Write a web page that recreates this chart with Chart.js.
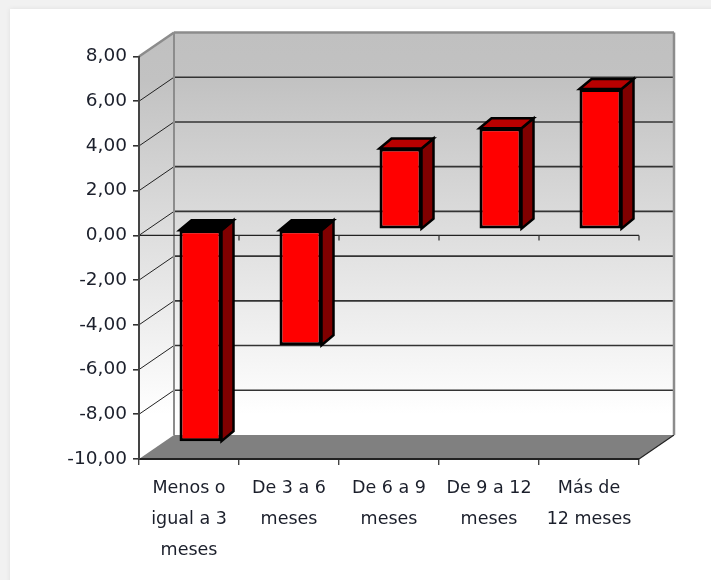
<!DOCTYPE html>
<html>
<head>
<meta charset="utf-8">
<title>Grafico</title>
<script src="https://cdn.jsdelivr.net/npm/chart.js@4"></script>
<style>
    html, body { margin: 0; padding: 0; width: 711px; height: 580px; overflow: hidden; background: #f1f1f1; }
    .card { position: absolute; left: 10px; top: 9px; width: 720px; height: 600px; background: #fff; box-shadow: 0 0 5px rgba(0,0,0,0.08); }
    canvas { position: absolute; left: 0; top: 0; }
</style>
</head>
<body>
<div class="card"></div>
<canvas id="grafico" width="711" height="580"></canvas>
<script>
const categorias = [
    ['Menos o', 'igual a 3', 'meses'],
    ['De 3 a 6', 'meses'],
    ['De 6 a 9', 'meses'],
    ['De 9 a 12', 'meses'],
    ['Más de', '12 meses']
];
const valores = [-9.47, -5.18, 3.62, 4.52, 6.28];
const ejeMin = -10;
const ejeMax = 8;
const ejePaso = 2;

// profundidad de la caja 3D y posicion de la barra dentro de ella
const fondoX = 35, fondoY = -24;
const barraX = 11.5, barraY = -6;
const cuboX = 12, cuboY = -10;

const colorTexto = '#1b1f2b';

function fondoDegradado(ctx, y0, y1) {
    const g = ctx.createLinearGradient(0, y0, 0, y1);
    g.addColorStop(0, '#c0c0c0');
    g.addColorStop(0.12, '#c2c2c2');
    g.addColorStop(0.95, '#ffffff');
    g.addColorStop(1, '#ffffff');
    return g;
}

function poligono(ctx, puntos, relleno, borde, grosor) {
    ctx.beginPath();
    puntos.forEach((p, i) => i === 0 ? ctx.moveTo(p[0], p[1]) : ctx.lineTo(p[0], p[1]));
    ctx.closePath();
    if (relleno) {
        ctx.fillStyle = relleno;
        ctx.fill();
    }
    if (borde) {
        ctx.strokeStyle = borde;
        ctx.lineWidth = grosor;
        ctx.lineJoin = 'miter';
        ctx.stroke();
    }
}

function linea(ctx, x0, y0, x1, y1, color, grosor) {
    ctx.beginPath();
    ctx.moveTo(x0, y0);
    ctx.lineTo(x1, y1);
    ctx.strokeStyle = color;
    ctx.lineWidth = grosor;
    ctx.stroke();
}

const caja3d = {
    id: 'caja3d',
    beforeDraw(chart) {
        const ctx = chart.ctx;
        const { left, right, top, bottom } = chart.chartArea;
        const yEje = chart.scales.y;
        ctx.save();

        // paredes
        poligono(ctx, [[left + fondoX, top + fondoY], [right + fondoX, top + fondoY], [right + fondoX, bottom + fondoY], [left + fondoX, bottom + fondoY]], fondoDegradado(ctx, top + fondoY, bottom + fondoY));
        poligono(ctx, [[left, top], [left + fondoX, top + fondoY], [left + fondoX, bottom + fondoY], [left, bottom]], fondoDegradado(ctx, top + fondoY, bottom + fondoY));

        // rejilla
        yEje.ticks.forEach(t => {
            const y = yEje.getPixelForValue(t.value);
            if (t.value !== ejeMin && t.value !== ejeMax) {
                linea(ctx, left, y, left + fondoX, y + fondoY, '#222', 1);
                linea(ctx, left + fondoX, y + fondoY, right + fondoX, y + fondoY, '#333', 1.6);
            }
        });

        // suelo
        poligono(ctx, [[left, bottom], [right, bottom], [right + fondoX, bottom + fondoY], [left + fondoX, bottom + fondoY]], '#808080');
        linea(ctx, right, bottom, right + fondoX, bottom + fondoY, '#222', 1.2);

        // bordes grises
        linea(ctx, left + fondoX, bottom + fondoY, left + fondoX, top + fondoY, '#8c8c8c', 2);
        linea(ctx, left, top, left + fondoX, top + fondoY, '#8c8c8c', 2.5);
        linea(ctx, left + fondoX, top + fondoY, right + fondoX, top + fondoY, '#8c8c8c', 2.5);
        linea(ctx, right + fondoX, top + fondoY, right + fondoX, bottom + fondoY, '#8c8c8c', 2.5);

        // linea del cero con sus marcas
        const y0 = yEje.getPixelForValue(0);
        linea(ctx, left, y0, right, y0, '#222', 1.4);
        categorias.forEach((c, i) => {
            const x = left + (right - left) * (i + 1) / categorias.length;
            linea(ctx, x, y0, x, y0 + 5, '#444', 1.4);
        });
        ctx.restore();
    },
    beforeDatasetDraw(chart, args) {
        const ctx = chart.ctx;
        ctx.save();
        ctx.translate(barraX, barraY);
        args.meta.data.forEach(barra => {
            const p = barra.getProps(['x', 'y', 'base', 'width'], true);
            const izq = p.x - p.width / 2, der = p.x + p.width / 2;
            const arriba = Math.min(p.y, p.base), abajo = Math.max(p.y, p.base);
            const negativa = p.y > p.base;
            poligono(ctx, [[der, arriba], [der + cuboX, arriba + cuboY], [der + cuboX, abajo + cuboY], [der, abajo]], '#800000', '#000', 2.5);
            poligono(ctx, [[izq, arriba], [izq + cuboX, arriba + cuboY], [der + cuboX, arriba + cuboY], [der, arriba]], negativa ? '#000000' : '#b80000', '#000', 2.5);
        });
    },
    afterDatasetDraw(chart) {
        chart.ctx.restore();
    }
};

new Chart(document.getElementById('grafico'), {
    type: 'bar',
    data: {
        labels: categorias,
        datasets: [{
            data: valores,
            backgroundColor: '#ff0000',
            borderColor: '#000000',
            borderWidth: 3,
            borderSkipped: false,
            categoryPercentage: 0.42,
            barPercentage: 1,
            clip: false
        }]
    },
    options: {
        responsive: false,
        animation: false,
        layout: { padding: { left: 0, top: 56.5, right: 72, bottom: 0 } },
        plugins: { legend: { display: false }, title: { display: false }, tooltip: { enabled: false } },
        scales: {
            x: {
                afterFit: (s) => { s.height = 121; },
                border: { color: '#222', width: 2 },
                grid: { drawOnChartArea: false, drawTicks: true, tickLength: 6, color: '#444', lineWidth: 1.4 },
                ticks: {
                    color: colorTexto,
                    maxRotation: 0,
                    autoSkip: false,
                    padding: 8,
                    font: { family: '"DejaVu Sans"', size: 17.5, lineHeight: 1.77 }
                }
            },
            y: {
                min: ejeMin,
                max: ejeMax,
                afterFit: (s) => { s.width = 139; },
                border: { color: '#444', width: 2 },
                grid: { drawOnChartArea: false, drawTicks: true, tickLength: 6, color: '#333', lineWidth: 1.6 },
                ticks: {
                    stepSize: ejePaso,
                    color: colorTexto,
                    padding: 6,
                    font: { family: '"DejaVu Sans"', size: 18.5 },
                    callback: (v) => v.toFixed(2).replace('.', ',')
                }
            }
        }
    },
    plugins: [caja3d]
});
</script>
</body>
</html>
